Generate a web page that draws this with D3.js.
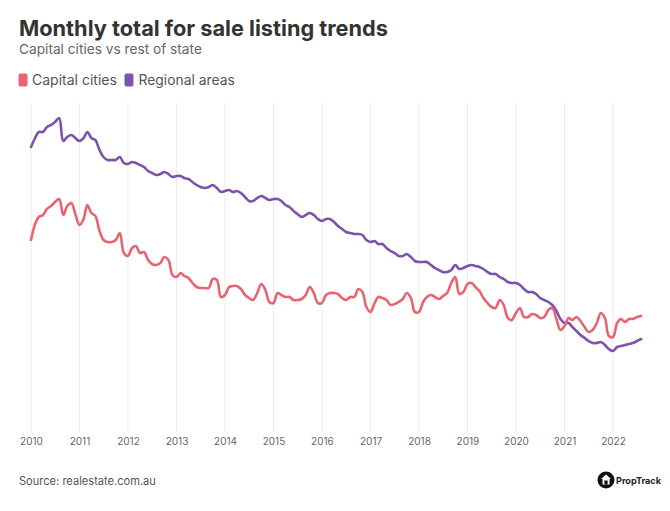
<!DOCTYPE html>
<html>
<head>
<meta charset="utf-8">
<script src="https://cdn.jsdelivr.net/npm/d3@7"></script>
<style>
  html, body { margin: 0; padding: 0; background: #ffffff; }
  svg { display: block; }
  text { font-family: "Inter", "Open Sans", "DejaVu Sans", sans-serif; }
</style>
</head>
<body>
<svg id="chart" width="670" height="511"></svg>
<script>
// ---------------- DATA ----------------
const startYear = 2010;          // first month: Jan 2010, monthly to Aug 2022
const seriesNames = ["Capital cities", "Regional areas"];
const yearTicks = ["2010","2011","2012","2013","2014","2015","2016","2017","2018","2019","2020","2021","2022"];

// Capital cities (index)
const capitalCities = [
  200, 216, 223, 225, 231, 234, 238, 241, 225, 234, 237, 226,
  215, 221, 235, 227, 224, 209, 200, 198, 198, 200, 207, 187,
  184, 192, 194, 187, 188, 180, 176, 175, 177, 183, 180, 165,
  163, 167, 164, 162, 157, 153, 152, 152, 152, 161, 160, 143,
  145, 153, 154, 154, 151, 145, 142, 140, 147, 156, 150, 138,
  137, 147, 145, 143, 143, 140, 140, 141, 145, 153, 147, 137,
  137, 145, 147, 147, 146, 142, 140, 143, 143, 151, 148, 133,
  128, 137, 143, 142, 140, 135, 136, 138, 141, 147, 142, 128,
  128, 138, 143, 145, 143, 141, 144, 147, 157, 163, 146, 148,
  156, 157, 153, 149, 142, 137, 133, 132, 140, 135, 122, 120,
  127, 132, 123, 123, 126, 125, 122, 123, 130, 132, 121, 110,
  114, 122, 120, 123, 119, 113, 108, 110, 117, 127, 122, 104,
  103, 117, 121, 118, 121, 121, 123, 124
];

// Regional areas (index)
const regionalAreas = [
  293, 302, 308, 308, 313, 315, 318, 322, 299, 303, 305, 302,
  299, 302, 308, 302, 300, 290, 283, 280, 280, 280, 283, 277,
  276, 278, 277, 275, 273, 269, 267, 265, 266, 268, 266, 263,
  264, 264, 262, 261, 258, 255, 253, 252, 253, 255, 252, 248,
  249, 250, 248, 249, 247, 243, 239, 239, 242, 244, 242, 240,
  241, 241, 239, 235, 233, 229, 226, 223, 225, 227, 225, 221,
  219, 221, 221, 218, 214, 211, 208, 207, 206, 206, 205, 200,
  198, 199, 196, 196, 192, 189, 187, 184, 184, 186, 183, 179,
  178, 178, 178, 175, 172, 170, 168, 168, 170, 175, 171, 172,
  174, 175, 174, 173, 171, 168, 166, 166, 163, 161, 158, 157,
  157, 155, 151, 148, 148, 146, 142, 140, 138, 135, 129, 121,
  117, 117, 113, 109, 105, 102,  99,  97,  97,  98,  95,  91,
   89,  93,  94,  95,  96,  97,  99, 101
];

const colors = ["#e8646e", "#7b52ae"];

// ---------------- CHART ----------------
const svg = d3.select("#chart");

const months = capitalCities.map((_, i) => new Date(startYear, i, 1));

const x = d3.scaleTime()
  .domain([new Date(2010, 0, 1), new Date(2022, 0, 1)])
  .range([31, 613]);

const y = d3.scaleLinear()
  .domain([0, 340])
  .range([440, 100]);

// fit text width helper
function fitText(sel, target) {
  const n = sel.node();
  const fs = parseFloat(sel.attr("font-size"));
  const w = n.getComputedTextLength();
  sel.attr("font-size", (fs * target / w).toFixed(2));
}

// Title
const title = svg.append("text")
  .attr("x", 19).attr("y", 36)
  .attr("font-size", 20).attr("font-weight", 700)
  .attr("fill", "#333333")
  .text("Monthly total for sale listing trends");
fitText(title, 369);

const sub = svg.append("text")
  .attr("x", 19).attr("y", 54)
  .attr("font-size", 13).attr("fill", "#666666")
  .text("Capital cities vs rest of state");
fitText(sub, 183);

// Legend
const legendItems = [
  {name: seriesNames[0], color: colors[0], sx: 18.5, tx: 32, w: 85},
  {name: seriesNames[1], color: colors[1], sx: 124.5, tx: 138.5, w: 96.5}
];
legendItems.forEach(d => {
  svg.append("rect")
    .attr("x", d.sx).attr("y", 73.5).attr("width", 9).attr("height", 13)
    .attr("rx", 2).attr("fill", d.color);
  const t = svg.append("text")
    .attr("x", d.tx).attr("y", 84.5)
    .attr("font-size", 14).attr("fill", "#555555")
    .text(d.name);
  fitText(t, d.w);
});

// Vertical gridlines
const tickDates = yearTicks.map(t => new Date(+t, 0, 1));
svg.append("g")
  .selectAll("line")
  .data(tickDates)
  .join("line")
  .attr("x1", d => x(d)).attr("x2", d => x(d))
  .attr("y1", 103).attr("y2", 432)
  .attr("stroke", "#ececec").attr("stroke-width", 1);

// X axis labels
const xAxis = d3.axisBottom(x)
  .tickValues(tickDates)
  .tickFormat((d, i) => yearTicks[i])
  .tickSize(0).tickPadding(0);
const gx = svg.append("g")
  .attr("transform", "translate(0,438)")
  .call(xAxis);
gx.select(".domain").remove();
gx.selectAll("text")
  .attr("font-size", 10)
  .attr("font-family", "Inter, 'Open Sans', sans-serif")
  .attr("fill", "#666666")
  .attr("dy", "0.71em");

// Lines
const line = d3.line()
  .x((d, i) => x(months[i]))
  .y(d => y(d))
  .curve(d3.curveCatmullRom.alpha(0.5));

[regionalAreas, capitalCities].forEach((arr, k) => {
  svg.append("path")
    .datum(arr)
    .attr("fill", "none")
    .attr("stroke", k === 0 ? colors[1] : colors[0])
    .attr("stroke-width", 2.6)
    .attr("stroke-linejoin", "round")
    .attr("stroke-linecap", "round")
    .attr("d", line);
});

// Source
const src = svg.append("text")
  .attr("x", 19).attr("y", 485)
  .attr("font-size", 11).attr("fill", "#555555")
  .text("Source: realestate.com.au");
fitText(src, 137);

// PropTrack logo
const logo = svg.append("g").attr("transform", "translate(606,480)");
logo.append("circle").attr("r", 8.5).attr("fill", "#111111");
logo.append("path")
  .attr("d", "M0,-5.5 L5,-1 L3.5,-1 L3.5,4.5 L-3.5,4.5 L-3.5,-1 L-5,-1 Z")
  .attr("fill", "#ffffff");
logo.append("rect").attr("x", -1.6).attr("y", 0.5).attr("width", 3.2).attr("height", 4).attr("fill", "#111111");
const lt = svg.append("text")
  .attr("x", 616).attr("y", 484)
  .attr("font-size", 11).attr("font-weight", 700).attr("fill", "#222222")
  .text("PropTrack");
fitText(lt, 45);
</script>
</body>
</html>
